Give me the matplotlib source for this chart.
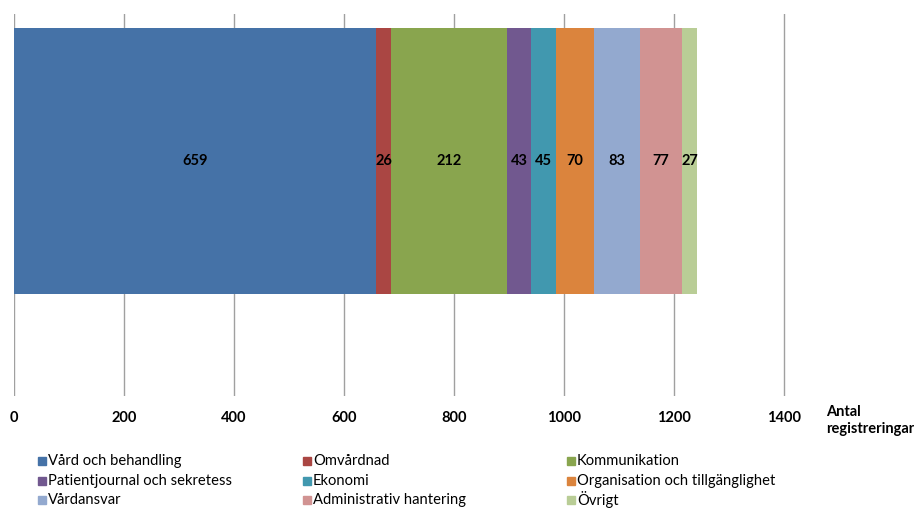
import matplotlib
matplotlib.use("Agg")
import matplotlib.pyplot as plt

categories = ["Vård och behandling", "Omvårdnad", "Kommunikation",
              "Patientjournal och sekretess", "Ekonomi", "Organisation och tillgänglighet",
              "Vårdansvar", "Administrativ hantering", "Övrigt"]
values = [659, 26, 212, 43, 45, 70, 83, 77, 27]
colors = ["#4572A7", "#AA4643", "#89A54E", "#71588F", "#4198AF",
          "#DB843D", "#93A9CF", "#D19392", "#B9CD96"]
xticks = [0, 200, 400, 600, 800, 1000, 1200, 1400]
xlabel = "Antal\nregistreringar"

FONT = ["Lato", "DejaVu Sans"]

W, H = 914, 509
fig = plt.figure(figsize=(W / 100, H / 100), dpi=100)
# axes: left 14px, right 894px, top 14px, bottom 396px
ax = fig.add_axes([14 / W, 1 - 396 / H, (894 - 14) / W, (396 - 14) / H])

left = 0
for cat, v, c in zip(categories, values, colors):
    ax.barh(0, v, left=left, height=266, color=c, edgecolor="none", zorder=2)
    ax.text(left + v / 2, 0, str(v), ha="center", va="center",
            fontsize=10.5, fontweight="bold", family=FONT, zorder=3)
    left += v

ax.set_xlim(0, 1600)
ax.set_ylim(-235, 147)
for x in xticks:
    ax.axvline(x, color="#A0A0A0", lw=1, zorder=1)

for s in ax.spines.values():
    s.set_visible(False)
ax.set_yticks([])
ax.set_xticks(xticks)
ax.set_xticklabels([str(t) for t in xticks], fontsize=10.5, fontweight="bold", family=FONT)
ax.tick_params(axis="x", length=0, pad=11)

fig.text(826 / W, 1 - 405 / H, xlabel, ha="left", va="top", fontsize=10.5,
         fontweight="bold", family=FONT, linespacing=1.25)

# legend in three columns
col_x = [38, 303, 567]
row_y = [461, 481, 500]
for i, (cat, c) in enumerate(zip(categories, colors)):
    r, k = divmod(i, 3)
    x0, y0 = col_x[k], row_y[r]
    fig.patches.append(plt.Rectangle((x0 / W, 1 - (y0 + 4) / H), 8 / W, 8 / H,
                                     transform=fig.transFigure, color=c, figure=fig))
    fig.text((x0 + 10) / W, 1 - y0 / H, cat, ha="left", va="center",
             fontsize=10.6, family=FONT)

fig.savefig("out.png", dpi=100)
